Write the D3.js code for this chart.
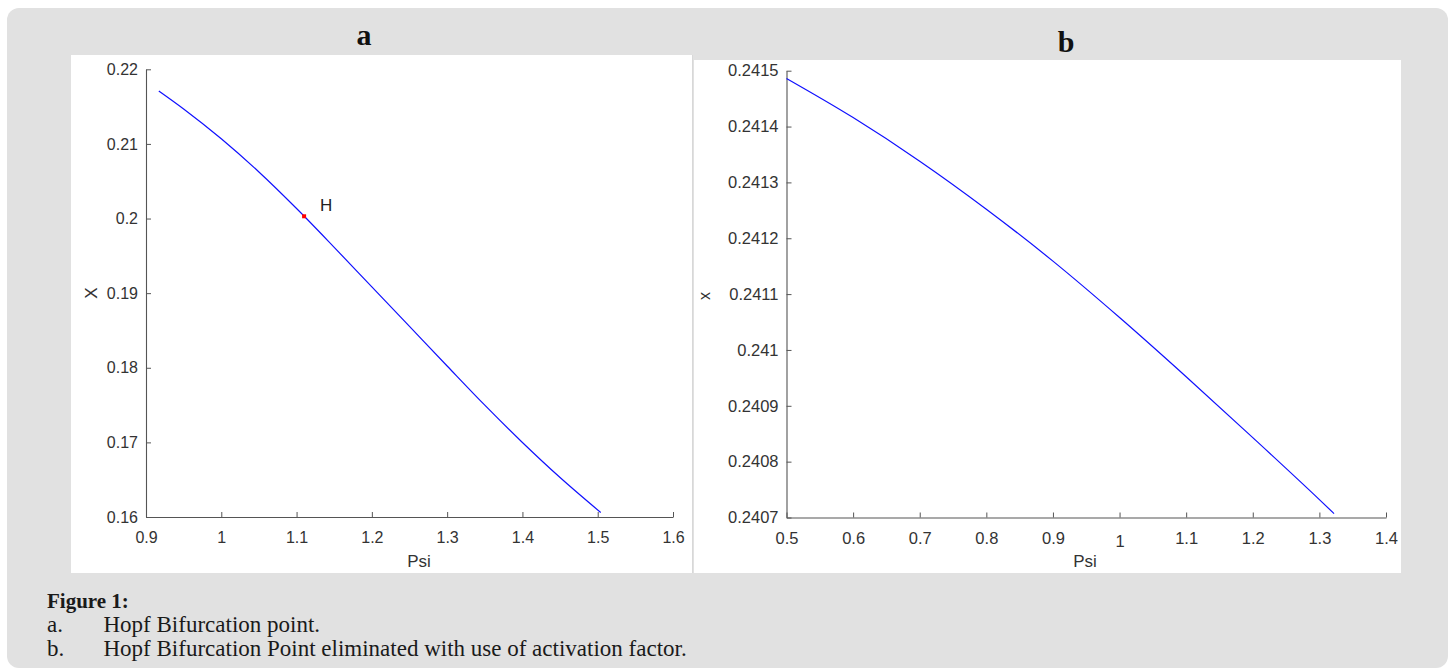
<!DOCTYPE html>
<html>
<head>
<meta charset="utf-8">
<script src="https://cdn.jsdelivr.net/npm/d3@7"></script>
<style>
  body { margin: 0; background: #fff; }
  svg { display: block; }
</style>
</head>
<body>
<svg id="fig" width="1450" height="670"></svg>
<script>
// Données

// a : point de bifurcation de Hopf
const psiA = [0.917, 0.95, 1.0, 1.05, 1.1, 1.15, 1.2, 1.25, 1.3, 1.35, 1.4, 1.45, 1.504];
const xA = [0.2171, 0.21469, 0.21069, 0.20624, 0.20134, 0.19614, 0.19084, 0.18554, 0.18024, 0.17499, 0.16999, 0.16529, 0.1606];
const hopfPsi = [1.11];
const hopfX = [0.2003];

// b : avec facteur d'activation
const psiB = [0.5, 0.6, 0.7, 0.8, 0.9, 1.0, 1.1, 1.2, 1.3, 1.322];
const xB = [0.241486, 0.241416, 0.241338, 0.241252, 0.241159, 0.241058, 0.240952, 0.240843, 0.240732, 0.240707];

// Graduations
const ticksXA = [0.9, 1, 1.1, 1.2, 1.3, 1.4, 1.5, 1.6];
const ticksYA = [0.16, 0.17, 0.18, 0.19, 0.2, 0.21, 0.22];
const ticksXB = [0.5, 0.6, 0.7, 0.8, 0.9, 1, 1.1, 1.2, 1.3, 1.4];
const ticksYB = [0.2407, 0.2408, 0.2409, 0.241, 0.2411, 0.2412, 0.2413, 0.2414, 0.2415];

const captionLines = [
  ["a.", "Hopf Bifurcation point."],
  ["b.", "Hopf Bifurcation Point eliminated with use of activation factor."],
];

const fmt = (d) => String(+d.toFixed(5));
const sans = "Liberation Sans, Arial, sans-serif";
const serif = "Liberation Serif, Times New Roman, serif";

const svg = d3.select("#fig");

// Fond gris et panneaux blancs
svg.append("rect")
  .attr("x", 7).attr("y", 8)
  .attr("width", 1441).attr("height", 660)
  .attr("rx", 12)
  .attr("fill", "#e1e1e1");

svg.append("rect")
  .attr("x", 71).attr("y", 55)
  .attr("width", 621).attr("height", 518)
  .attr("fill", "#fff");

svg.append("rect")
  .attr("x", 694).attr("y", 60)
  .attr("width", 707).attr("height", 513)
  .attr("fill", "#fff");

svg.append("line")
  .attr("x1", 692.5).attr("x2", 692.5)
  .attr("y1", 55).attr("y2", 573)
  .attr("stroke", "#d8d8d8");

// Titres des panneaux
svg.append("text")
  .attr("x", 364).attr("y", 45)
  .attr("text-anchor", "middle")
  .style("font-family", serif)
  .style("font-weight", "bold")
  .style("font-size", "30px")
  .attr("fill", "#111")
  .text("a");

svg.append("text")
  .attr("x", 1066).attr("y", 51.5)
  .attr("text-anchor", "middle")
  .style("font-family", serif)
  .style("font-weight", "bold")
  .style("font-size", "30px")
  .attr("fill", "#111")
  .text("b");

// Tracé d'un panneau
function drawPanel(opts) {
  const x = d3.scaleLinear().domain(opts.xDomain).range(opts.xRange);
  const y = d3.scaleLinear().domain(opts.yDomain).range(opts.yRange);
  const g = svg.append("g");

  const gx = g.append("g")
    .attr("transform", "translate(0," + opts.yRange[0] + ")")
    .call(d3.axisBottom(x).tickValues(opts.xTicks).tickFormat(fmt)
      .tickSizeInner(-5).tickSizeOuter(0).tickPadding(15));

  const gy = g.append("g")
    .attr("transform", "translate(" + opts.xRange[0] + ",0)")
    .call(d3.axisLeft(y).tickValues(opts.yTicks).tickFormat(fmt)
      .tickSizeInner(-5).tickSizeOuter(0).tickPadding(8));

  [gx, gy].forEach((a) => {
    a.select(".domain").attr("stroke", "#555").attr("stroke-width", 1.1);
    a.selectAll(".tick line").attr("stroke", "#555");
    a.selectAll(".tick text")
      .style("font-family", sans)
      .style("font-size", opts.fontSize + "px")
      .attr("fill", "#333");
  });

  // le "1" est un peu plus bas sur la figure b
  if (opts.lowerOne) {
    gx.selectAll(".tick text").filter((d) => d === 1).attr("dy", "0.9em");
  }

  const line = d3.line()
    .x((d) => x(d[0]))
    .y((d) => y(d[1]))
    .curve(d3.curveMonotoneX);

  g.append("path")
    .datum(opts.psi.map((p, i) => [p, opts.vals[i]]))
    .attr("d", line)
    .attr("fill", "none")
    .attr("stroke", "#1010ff")
    .attr("stroke-width", 1.2);

  // Libellés des axes
  g.append("text")
    .attr("x", opts.xLabelX)
    .attr("y", 567)
    .attr("text-anchor", "middle")
    .style("font-family", sans)
    .style("font-size", "17px")
    .attr("fill", "#333")
    .text("Psi");

  g.append("text")
    .attr("transform", "translate(" + opts.yLabelX + "," + opts.yLabelY + ") rotate(-90)")
    .attr("text-anchor", "middle")
    .attr("dy", "0.35em")
    .style("font-family", sans)
    .style("font-size", opts.yLabelSize + "px")
    .attr("fill", "#333")
    .text(opts.yLabel);

  return { g, x, y };
}

const pa = drawPanel({
  xDomain: [0.9, 1.6], xRange: [146, 673],
  yDomain: [0.16, 0.22], yRange: [517, 69.3],
  xTicks: ticksXA, yTicks: ticksYA,
  psi: psiA, vals: xA,
  fontSize: 16,
  xLabelX: 419,
  yLabel: "X", yLabelX: 91, yLabelY: 293, yLabelSize: 17,
});

const pb = drawPanel({
  xDomain: [0.5, 1.4], xRange: [786.5, 1386],
  yDomain: [0.2407, 0.2415], yRange: [517.5, 70.7],
  xTicks: ticksXB, yTicks: ticksYB,
  psi: psiB, vals: xB,
  fontSize: 16.5,
  lowerOne: true,
  xLabelX: 1085,
  yLabel: "x", yLabelX: 704, yLabelY: 296, yLabelSize: 16,
});

// Point H
pa.g.selectAll(".hopf")
  .data(hopfPsi.map((p, i) => [p, hopfX[i]]))
  .enter()
  .append("rect")
  .attr("class", "hopf")
  .attr("x", (d) => pa.x(d[0]) - 2)
  .attr("y", (d) => pa.y(d[1]) - 2)
  .attr("width", 4).attr("height", 4)
  .attr("fill", "#ff0000");

pa.g.append("text")
  .attr("x", pa.x(hopfPsi[0]) + 16)
  .attr("y", pa.y(hopfX[0]) - 5)
  .style("font-family", sans)
  .style("font-size", "17px")
  .attr("fill", "#222")
  .text("H");

// Légende
svg.append("text")
  .attr("x", 47).attr("y", 608)
  .style("font-family", serif)
  .style("font-weight", "bold")
  .style("font-size", "21px")
  .attr("fill", "#1a1a1a")
  .text("Figure 1:");

captionLines.forEach((l, i) => {
  const yy = 632 + i * 24;
  svg.append("text")
    .attr("x", 47).attr("y", yy)
    .style("font-family", serif)
    .style("font-size", "23px")
    .attr("fill", "#1a1a1a")
    .text(l[0]);
  svg.append("text")
    .attr("x", 103.5).attr("y", yy)
    .style("font-family", serif)
    .style("font-size", "23px")
    .attr("fill", "#1a1a1a")
    .text(l[1]);
});
</script>
</body>
</html>
